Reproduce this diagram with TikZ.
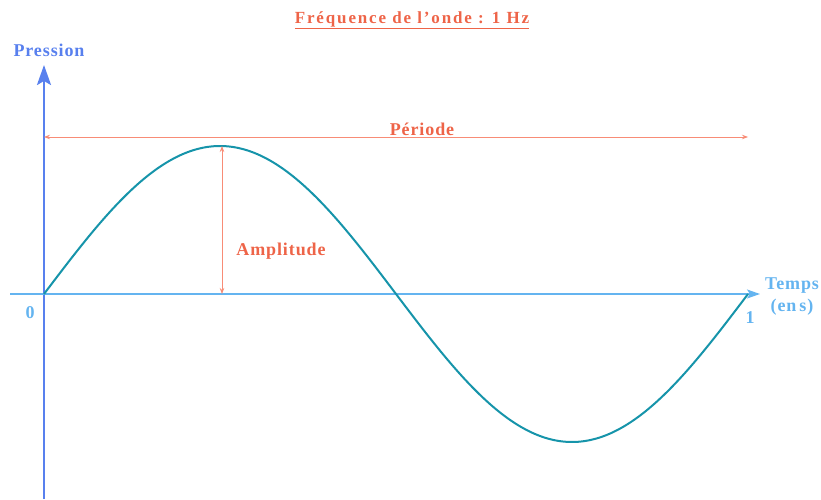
\documentclass[tikz,border=0pt]{standalone}
\usepackage{fontspec}
\setmainfont{Liberation Serif}
\usetikzlibrary{arrows.meta}
\definecolor{axeblue}{RGB}{88,128,238}
\definecolor{timeblue}{RGB}{100,180,240}
\definecolor{waveteal}{RGB}{22,148,170}
\definecolor{labred}{RGB}{238,100,72}
\definecolor{linered}{RGB}{248,140,118}
\newfontfamily\lblfont[LetterSpace=5]{Liberation Serif}
\newfontfamily\titlefont[LetterSpace=11]{Liberation Serif}
\tikzset{
  lbl/.style={font=\lblfont\bfseries\fontsize{18}{22}\selectfont, inner sep=1pt},
  mark line/.style={linered, line width=0.8pt, {Stealth[length=6pt,width=4.5pt]}-{Stealth[length=6pt,width=4.5pt]}}
}
\begin{document}
\begin{tikzpicture}[x=1pt, y=1pt, >=Stealth]
  \useasboundingbox (0,0) rectangle (821,499);
  % axes
  \coordinate (O) at (44,205);
  \coordinate (ybot) at (44,0);
  \coordinate (ytop) at (44,434);
  \coordinate (xleft) at (10,205);
  \coordinate (xright) at (760,205);
  \draw[axeblue, line width=2.4pt, -{Stealth[length=20pt,width=14pt,inset=4pt]}] (ybot) -- (ytop);
  \draw[timeblue, line width=1.6pt, -{Stealth[length=13pt,width=9pt,inset=3pt]}] (xleft) -- (xright);
  \node[lbl, axeblue] (pression) at (49,449) {Pression};
  \node[lbl, timeblue, align=center] (temps) at (792,202) {Temps\\(en\,s)};
  \node[lbl, timeblue] (zero) at (30,186) {0};
  \node[lbl, timeblue] (one) at (750,181) {1};
  % the wave
  \draw[waveteal, line width=2pt, domain=0:704, samples=150, smooth] plot ({44+\x}, {205+148*sin(\x/704*360)});
  % period and amplitude
  \coordinate (pstart) at (44,362);
  \coordinate (pend) at (748,362);
  \draw[mark line] (pstart) -- (pend);
  \node[lbl, labred] (periode) at (422,370) {Période};
  \coordinate (abot) at (222,205);
  \coordinate (atop) at (222,353);
  \draw[mark line] (abot) -- (atop);
  \node[lbl, labred] (amplitude) at (281,248) {Amplitude};
  \node[lbl, labred, font=\titlefont\bfseries\fontsize{17}{20}\selectfont] (titre) at (412,479) {\underline{Fréquence de l’onde : 1 Hz}};
\end{tikzpicture}
\end{document}
